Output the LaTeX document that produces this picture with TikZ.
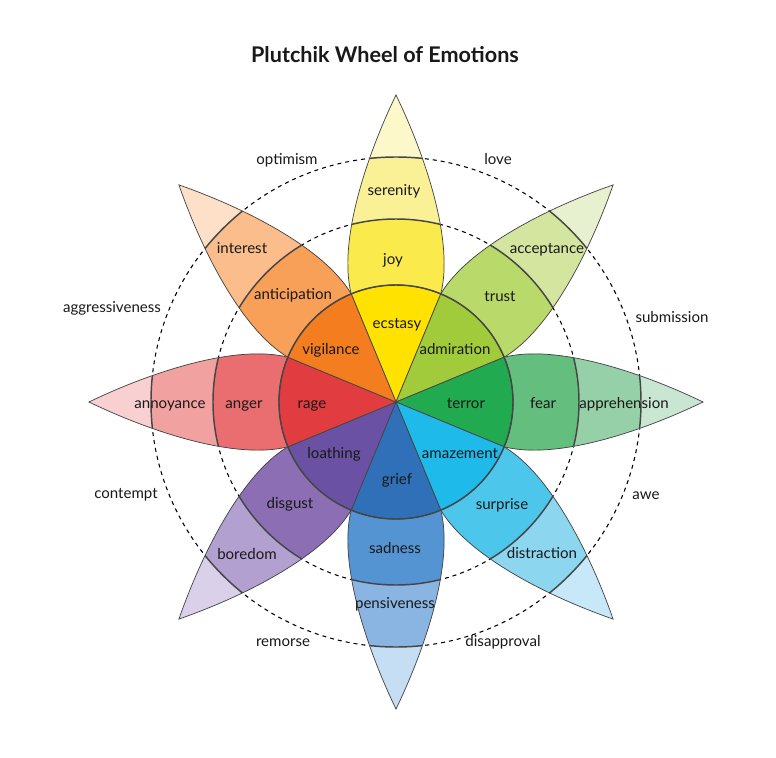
\documentclass[tikz,border=0pt]{standalone}
\usepackage{fontspec}
\setmainfont{Lato}
\usepackage{tikz}
\usetikzlibrary{calc}

% joy
\definecolor{ecstasyc}{RGB}{255,226,0}
\definecolor{joyc}{RGB}{250,234,75}
\definecolor{serenityc}{RGB}{250,241,150}
\definecolor{joytip}{RGB}{253,248,202}
% trust
\definecolor{admirationc}{RGB}{161,203,58}
\definecolor{trustc}{RGB}{185,217,107}
\definecolor{acceptancec}{RGB}{211,229,158}
\definecolor{trusttip}{RGB}{232,241,207}
% fear
\definecolor{terrorc}{RGB}{34,170,80}
\definecolor{fearc}{RGB}{100,190,125}
\definecolor{apprehensionc}{RGB}{150,208,168}
\definecolor{feartip}{RGB}{201,230,211}
% surprise
\definecolor{amazementc}{RGB}{30,186,234}
\definecolor{surprisec}{RGB}{76,198,235}
\definecolor{distractionc}{RGB}{141,214,240}
\definecolor{surprisetip}{RGB}{198,232,248}
% sadness
\definecolor{griefc}{RGB}{48,112,185}
\definecolor{sadnessc}{RGB}{84,148,210}
\definecolor{pensivenessc}{RGB}{138,181,226}
\definecolor{sadnesstip}{RGB}{197,222,244}
% disgust
\definecolor{loathingc}{RGB}{106,81,163}
\definecolor{disgustc}{RGB}{139,110,180}
\definecolor{boredomc}{RGB}{178,160,208}
\definecolor{disgusttip}{RGB}{218,208,234}
% anger
\definecolor{ragec}{RGB}{225,60,64}
\definecolor{angerc}{RGB}{234,110,112}
\definecolor{annoyancec}{RGB}{242,161,161}
\definecolor{angertip}{RGB}{248,208,210}
% anticipation
\definecolor{vigilancec}{RGB}{244,125,32}
\definecolor{anticipationc}{RGB}{248,159,88}
\definecolor{interestc}{RGB}{251,189,140}
\definecolor{anticipationtip}{RGB}{254,224,200}
% lines, text
\definecolor{linec}{RGB}{70,70,70}
\definecolor{textc}{RGB}{25,25,25}

% petal outline, pointing along +x
\newcommand{\petalpath}{(22.5:117) .. controls (160,58) and (245,30) .. (307,0)
  .. controls (245,-30) and (160,-58) .. (-22.5:117)
  arc[start angle=-22.5, end angle=22.5, radius=117] -- cycle}

% one petal: angle, core, middle, outer, tip
\newcommand{\petal}[5]{%
  \begin{scope}[rotate=#1]
    \begin{scope}
      \clip \petalpath;
      \fill[#5] (0,0) circle[radius=320];
      \fill[#4] (0,0) circle[radius=245];
      \fill[#3] (0,0) circle[radius=183];
      \draw[band] (0,0) circle[radius=245] (0,0) circle[radius=183];
    \end{scope}
    \draw[petaledge] \petalpath;
    \filldraw[fill=#2, petaledge] (0,0) -- (-22.5:117)
      arc[start angle=-22.5, end angle=22.5, radius=117] -- cycle;
  \end{scope}}

\begin{document}
\begin{tikzpicture}[
    x=0.75pt, y=0.75pt,
    every node/.style={font=\fontsize{11.3}{13}\selectfont, text=textc, inner sep=0pt, text height=1.8ex, text depth=0.2ex},
    petaledge/.style={draw=linec, line width=0.55pt},
    band/.style={draw=linec, line width=1.1pt},
    ring/.style={draw=black, line width=0.8pt, dash pattern=on 3pt off 3pt},
    titletext/.style={font=\fontsize{16.2}{19}\selectfont\bfseries},
  ]
  \useasboundingbox (-396,-356) rectangle (380,402);

  % ---- Dashed rings ----
  \draw[ring] (0,0) circle[radius=183];
  \draw[ring] (0,0) circle[radius=245];

  % ---- Petals ----
  \petal{90}{ecstasyc}{joyc}{serenityc}{joytip}
  \petal{45}{admirationc}{trustc}{acceptancec}{trusttip}
  \petal{0}{terrorc}{fearc}{apprehensionc}{feartip}
  \petal{-45}{amazementc}{surprisec}{distractionc}{surprisetip}
  \petal{-90}{griefc}{sadnessc}{pensivenessc}{sadnesstip}
  \petal{-135}{loathingc}{disgustc}{boredomc}{disgusttip}
  \petal{180}{ragec}{angerc}{annoyancec}{angertip}
  \petal{135}{vigilancec}{anticipationc}{interestc}{anticipationtip}

  % ---- Inner circle ----
  \draw[band] (0,0) circle[radius=117];

  % ---- Title ----
  \node[titletext] (title) at (-11,345) {Plutchik Wheel of Emotions};

  % ---- Core emotions ----
  \node (ecstasy) at (1,79) {ecstasy};
  \node (admiration) at (59,53) {admiration};
  \node (terror) at (70,-1) {terror};
  \node (amazement) at (64,-51) {amazement};
  \node (grief) at (1,-77) {grief};
  \node (loathing) at (-62,-51) {loathing};
  \node (rage) at (-84,-1) {rage};
  \node (vigilance) at (-65,53) {vigilance};

  % ---- Middle ring ----
  \node (joy) at (-3,143) {joy};
  \node (trust) at (104,106) {trust};
  \node (fear) at (147,-1) {fear};
  \node (surprise) at (106,-102) {surprise};
  \node (sadness) at (-1,-146) {sadness};
  \node (disgust) at (-106,-101) {disgust};
  \node (anger) at (-152,-1) {anger};
  \node (anticipation) at (-103,108) {anticipation};

  % ---- Outer ring ----
  \node (serenity) at (-2,212) {serenity};
  \node (acceptance) at (151,154) {acceptance};
  \node (apprehension) at (228,-1) {apprehension};
  \node (distraction) at (146,-151) {distraction};
  \node (pensiveness) at (-1,-201) {pensiveness};
  \node (boredom) at (-149,-152) {boredom};
  \node (annoyance) at (-226,-1) {annoyance};
  \node (interest) at (-154,154) {interest};

  % ---- Dyads ----
  \node (love) at (102,243) {love};
  \node (submission) at (276,85) {submission};
  \node (awe) at (250,-92) {awe};
  \node (disapproval) at (107,-239) {disapproval};
  \node (remorse) at (-113,-239) {remorse};
  \node (contempt) at (-270,-91) {contempt};
  \node (aggressiveness) at (-284,95) {aggressiveness};
  \node (optimism) at (-109,243) {optimism};

\end{tikzpicture}
\end{document}
